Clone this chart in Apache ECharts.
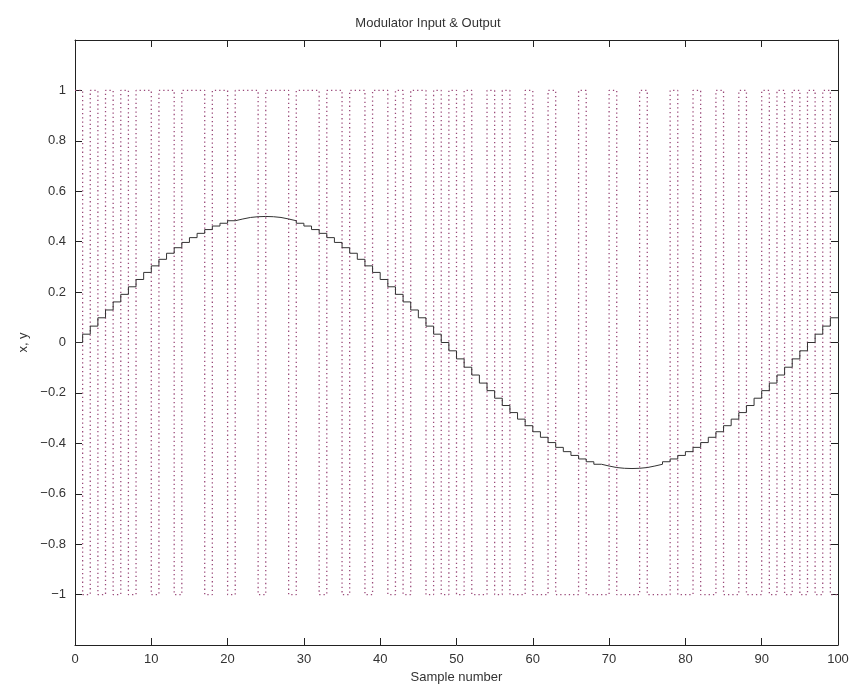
<!DOCTYPE html>
<html><head><meta charset="utf-8">
<script src="https://cdn.jsdelivr.net/npm/echarts@6/dist/echarts.min.js"></script>
<style>html,body{margin:0;padding:0;background:#fff}#c{width:856px;height:691px}</style>
</head><body><div id="c"></div>
<script>
// sample positions 0..99
const sampleIndex = Array.from({length:100},(_,i)=>i);
// modulator input (staircase)
const inputX = [
 0.000, 0.033, 0.065, 0.098, 0.129, 0.161, 0.191, 0.221, 0.250, 0.278,
 0.304, 0.330, 0.354, 0.376, 0.397, 0.416, 0.433, 0.448, 0.462, 0.473,
 0.483, 0.490, 0.496, 0.499, 0.500, 0.499, 0.496, 0.490, 0.483, 0.473,
 0.462, 0.448, 0.433, 0.416, 0.397, 0.376, 0.354, 0.330, 0.304, 0.278,
 0.250, 0.221, 0.191, 0.161, 0.129, 0.098, 0.065, 0.033, 0.000, -0.033,
 -0.065, -0.098, -0.129, -0.161, -0.191, -0.221, -0.250, -0.278, -0.304, -0.330,
 -0.354, -0.376, -0.397, -0.416, -0.433, -0.448, -0.462, -0.473, -0.483, -0.490,
 -0.496, -0.499, -0.500, -0.499, -0.496, -0.490, -0.483, -0.473, -0.462, -0.448,
 -0.433, -0.416, -0.397, -0.376, -0.354, -0.330, -0.304, -0.278, -0.250, -0.221,
 -0.191, -0.161, -0.129, -0.098, -0.065, -0.033, 0.000, 0.033, 0.065, 0.098
];
// modulator output (+1 / -1)
const outputY = [
 1,-1,1,-1,1,-1,1,-1,1,1,
 -1,1,1,-1,1,1,1,-1,1,1,
 -1,1,1,1,-1,1,1,1,-1,1,
 1,1,-1,1,1,-1,1,1,-1,1,
 1,-1,1,-1,1,1,-1,1,-1,1,
 -1,1,-1,-1,1,-1,1,-1,-1,1,
 -1,-1,1,-1,-1,-1,1,-1,-1,-1,
 1,-1,-1,-1,1,-1,-1,-1,1,-1,
 -1,1,-1,-1,1,-1,-1,1,-1,-1,
 1,-1,1,-1,1,-1,1,-1,1,-1
];
const xTicks = [0,10,20,30,40,50,60,70,80,90,100];
const yTicks = [-1,-0.8,-0.6,-0.4,-0.2,0,0.2,0.4,0.6,0.8,1];

function stepData(vals){
  const d = sampleIndex.map((k,i)=>[k, vals[i]]);
  d.push([sampleIndex.length, vals[vals.length-1]]);
  return d;
}
const txt = '#333';
const font = 'Liberation Sans, Arial, sans-serif';
const fmtY = v => {
  const r = Math.round(v*10)/10;
  if (Math.abs(r) > 1.05) return '';
  if (r === 0) return '0';
  return (r<0?'\u2212':'') + String(Math.abs(r));
};
const chart = echarts.init(document.getElementById('c'), null, {renderer:'canvas'});
const axisCommon = {
  axisLine:{show:true, onZero:false, lineStyle:{color:'#222', width:1}},
  axisTick:{show:true, inside:true, length:7, lineStyle:{color:'#222'}},
  splitLine:{show:false}
};
chart.setOption({
  animation:false,
  backgroundColor:'#fff',
  title:{text:'Modulator Input & Output', left:'center', top:12,
    textStyle:{fontFamily:font, fontSize:13, fontWeight:'normal', color:txt}},
  grid:{left:75, right:18, top:40, bottom:46},
  xAxis:[
    Object.assign({type:'value', min:0, max:100, interval:10, position:'bottom',
      name:'Sample number', nameLocation:'middle', nameGap:24,
      nameTextStyle:{fontFamily:font, fontSize:13, color:txt},
      axisLabel:{fontFamily:font, fontSize:13, color:txt, margin:8}}, axisCommon),
    Object.assign({type:'value', min:0, max:100, interval:10, position:'top', axisLabel:{show:false}}, axisCommon)
  ],
  yAxis:[
    Object.assign({type:'value', min:-1.2, max:1.2, interval:0.2, position:'left',
      name:'x, y', nameLocation:'middle', nameGap:40, nameRotate:90,
      nameTextStyle:{fontFamily:font, fontSize:13, color:txt},
      axisLabel:{fontFamily:font, fontSize:13, color:txt, margin:9, formatter:fmtY}}, axisCommon),
    Object.assign({type:'value', min:-1.2, max:1.2, interval:0.2, position:'right', axisLabel:{show:false}}, axisCommon)
  ],
  series:[
    {type:'line', name:'y', step:'end', xAxisIndex:0, yAxisIndex:0, symbol:'none',
     data:stepData(outputY), lineStyle:{color:'#9a4a7a', width:1.3, type:[1.3,3]}},
    {type:'line', name:'x', step:'end', xAxisIndex:0, yAxisIndex:0, symbol:'none',
     data:stepData(inputX), lineStyle:{color:'#333', width:1}}
  ]
});
</script></body></html>
